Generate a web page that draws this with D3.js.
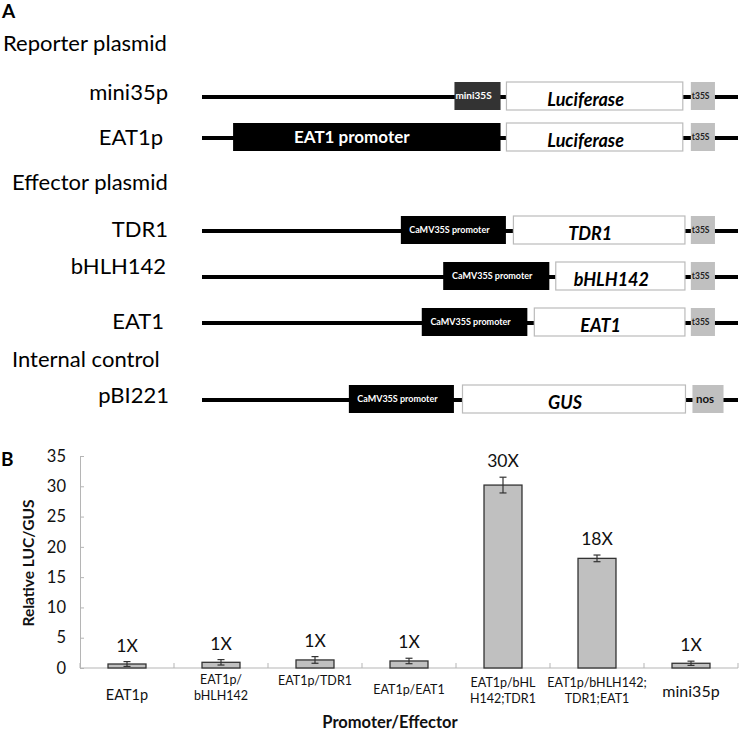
<!DOCTYPE html>
<html><head><meta charset="utf-8">
<script src="https://cdn.jsdelivr.net/npm/d3@7/dist/d3.min.js"></script>
<style>
html,body{margin:0;padding:0;background:#fff;}
svg{display:block;}
text{font-family:Lato, "Open Sans", sans-serif;}
</style></head>
<body>
<svg id="chart" width="740" height="733"></svg>
<script>
// ---------------- DATA ----------------
// Panel A: plasmid constructs (map units 0..1000 along the backbone)
const sectionTitles = ["Reporter plasmid", "Effector plasmid", "Internal control"];
const constructNames = ["mini35p", "EAT1p", "TDR1", "bHLH142", "EAT1", "pBI221"];
// parts: [label, type, start, end]
const partsMini35p = [["mini35S", "mini", 471, 557], ["Luciferase", "cds", 568, 897], ["t35S", "term", 912, 957]];
const partsEAT1p   = [["EAT1 promoter", "prom", 58, 557], ["Luciferase", "cds", 568, 897], ["t35S", "term", 912, 957]];
const partsTDR1    = [["CaMV35S promoter", "prom", 371, 567], ["TDR1", "cds", 581, 901], ["t35S", "term", 912, 957]];
const partsBHLH142 = [["CaMV35S promoter", "prom", 450, 648], ["bHLH142", "cds", 660, 901], ["t35S", "term", 912, 957]];
const partsEAT1    = [["CaMV35S promoter", "prom", 410, 607], ["EAT1", "cds", 620, 901], ["t35S", "term", 912, 957]];
const partsPBI221  = [["CaMV35S promoter", "prom", 274, 470], ["GUS", "cds", 486, 902], ["nos", "nos", 915, 973]];
const constructParts = [partsMini35p, partsEAT1p, partsTDR1, partsBHLH142, partsEAT1, partsPBI221];

// Panel B: bar chart
const categories = ["EAT1p", "EAT1p/\nbHLH142", "EAT1p/TDR1", "EAT1p/EAT1", "EAT1p/bHL\nH142;TDR1", "EAT1p/bHLH142;\nTDR1;EAT1", "mini35p"];
const values = [0.66, 0.94, 1.33, 1.16, 30.2, 18.1, 0.78];
const errors = [0.4, 0.45, 0.55, 0.45, 1.3, 0.55, 0.35];
const foldLabels = ["1X", "1X", "1X", "1X", "30X", "18X", "1X"];
const yTicks = [0, 5, 10, 15, 20, 25, 30, 35];
const yTitle = "Relative LUC/GUS";
const xTitle = "Promoter/Effector";

// ---------------- LAYOUT / STYLE ----------------
const svg = d3.select("#chart");
const arial = "'Liberation Sans', Arial, sans-serif";

// Panel labels
svg.append("text").attr("x", 2).attr("y", 18).attr("font-family", arial)
  .attr("font-weight", "bold").attr("font-size", 19).text("A");
svg.append("text").attr("x", 1).attr("y", 466).attr("font-family", arial)
  .attr("font-weight", "bold").attr("font-size", 19).text("B");

// Section titles
const sectionLayout = [{x: 3, y: 50.5}, {x: 12, y: 190}, {x: 12, y: 367}];
sectionTitles.forEach((t, i) => {
  svg.append("text").attr("x", sectionLayout[i].x).attr("y", sectionLayout[i].y)
    .attr("font-size", 22).attr("fill", "#000").text(t);
});

// Construct rows
const rowY = [97, 138, 231, 277, 323, 400];
const rowLabelBase = [100, 145, 237, 274, 329, 403];
const rowLabelRight = [168, 163, 168, 166, 164, 169];
const mapX = d3.scaleLinear().domain([0, 1000]).range([202, 738]);
const boxH = 28;

constructNames.forEach((name, i) => {
  const g = svg.append("g");
  const cy = rowY[i];
  g.append("text").attr("x", rowLabelRight[i]).attr("y", rowLabelBase[i])
    .attr("text-anchor", "end").attr("font-size", 22).text(name);
  g.append("line").attr("x1", mapX(0)).attr("x2", mapX(1000))
    .attr("y1", cy).attr("y2", cy).attr("stroke", "#000").attr("stroke-width", 4);
  const bc = cy - 1;
  constructParts[i].forEach(p => {
    const [label, type, s, e] = p;
    const x0 = mapX(s), x1 = mapX(e);
    let fill = "#fff", stroke = "none";
    if (type === "mini") fill = "#333";
    if (type === "prom") fill = "#000";
    if (type === "cds") { fill = "#fff"; stroke = "#bbb"; }
    if (type === "term" || type === "nos") fill = "#c0c0c0";
    g.append("rect").attr("x", x0).attr("y", bc - boxH / 2).attr("width", x1 - x0).attr("height", boxH)
      .attr("fill", fill).attr("stroke", stroke).attr("stroke-width", 1.2);
    const t = g.append("text").text(label);
    if (type === "mini") {
      t.attr("x", x0 + 1).attr("y", bc + 3).attr("fill", "#fff").attr("font-weight", "bold").attr("font-size", 10);
    } else if (type === "prom") {
      const big = label === "EAT1 promoter";
      t.attr("x", (x0 + x1) / 2 + (big ? -15 : -4)).attr("y", bc + (big ? 6 : 2.5))
        .attr("text-anchor", "middle").attr("fill", "#fff").attr("font-weight", "bold")
        .attr("font-size", big ? 17 : 9);
    } else if (type === "cds") {
      t.attr("x", (x0 + x1) / 2 - 9).attr("y", bc + 10).attr("text-anchor", "middle")
        .attr("font-weight", "bold").attr("font-style", "italic").attr("font-size", 18);
    } else if (type === "term") {
      t.attr("x", x0 + 1).attr("y", bc + 3).attr("fill", "#222").attr("font-weight", "bold").attr("font-size", 8.5);
    } else {
      t.attr("x", (x0 + x1) / 2 - 3).attr("y", bc + 4).attr("text-anchor", "middle")
        .attr("fill", "#111").attr("font-weight", "bold").attr("font-size", 11.5);
    }
  });
});

// ---------------- Panel B ----------------
const plotLeft = 80, plotRight = 738, plotBottom = 668, plotTop = 456;
const y = d3.scaleLinear().domain([0, 35]).range([plotBottom, plotTop]);
const x = d3.scaleBand().domain(categories).range([plotLeft, plotRight])
  .paddingInner(0.596).paddingOuter(0.298);
const axisColor = "#b5b5b5";

// Y axis
const yAxis = d3.axisLeft(y).tickValues(yTicks).tickSize(-4).tickPadding(14).tickFormat(d3.format("d"));
const yg = svg.append("g").attr("transform", `translate(${plotLeft},0)`).call(yAxis);
yg.select(".domain").attr("stroke", axisColor);
yg.selectAll(".tick line").attr("stroke", axisColor);
yg.selectAll(".tick text").attr("font-family", "Lato, sans-serif").attr("font-size", 16.5).attr("fill", "#111");

// X axis line and boundary ticks
svg.append("line").attr("x1", plotLeft).attr("x2", plotRight).attr("y1", plotBottom).attr("y2", plotBottom)
  .attr("stroke", axisColor);
const boundaries = categories.map(c => x(c) + x.bandwidth() / 2 - x.step() / 2).concat([plotRight]);
svg.selectAll(".btick").data(boundaries).enter().append("line")
  .attr("x1", d => d).attr("x2", d => d).attr("y1", plotBottom).attr("y2", plotBottom - 5)
  .attr("stroke", axisColor);

// Bars
svg.selectAll(".bar").data(values).enter().append("rect")
  .attr("x", (d, i) => x(categories[i]))
  .attr("y", d => y(d))
  .attr("width", x.bandwidth())
  .attr("height", d => y(0) - y(d))
  .attr("fill", "#c0c0c0").attr("stroke", "#333").attr("stroke-width", 1.3);

// Error bars
values.forEach((v, i) => {
  const cx = x(categories[i]) + x.bandwidth() / 2;
  const lo = y(v - errors[i]), hi = y(v + errors[i]);
  const eg = svg.append("g").attr("stroke", "#333").attr("stroke-width", 1.2);
  eg.append("line").attr("x1", cx).attr("x2", cx).attr("y1", lo).attr("y2", hi);
  eg.append("line").attr("x1", cx - 3.5).attr("x2", cx + 3.5).attr("y1", lo).attr("y2", lo);
  eg.append("line").attr("x1", cx - 3.5).attr("x2", cx + 3.5).attr("y1", hi).attr("y2", hi);
  svg.append("text").attr("x", cx).attr("y", hi - 10).attr("text-anchor", "middle")
    .attr("font-size", 17.5).attr("fill", "#111").text(foldLabels[i]);
});

// Category labels
const catFont = [14.5, 12.5, 12.5, 12.5, 12.5, 12.5, 16];
const catBase = [700, 684, 685, 694, 687, 687, 697];
categories.forEach((c, i) => {
  const cx = x(c) + x.bandwidth() / 2;
  const lines = c.split("\n");
  const t = svg.append("text").attr("text-anchor", "middle").attr("font-size", catFont[i]).attr("fill", "#111");
  lines.forEach((ln, j) => {
    t.append("tspan").attr("x", cx).attr("y", catBase[i] + j * 16).text(ln);
  });
});

// Axis titles
svg.append("text").attr("transform", "translate(34,563) rotate(-90)").attr("text-anchor", "middle")
  .attr("font-weight", "bold").attr("font-size", 15.5).attr("fill", "#111").text(yTitle);
svg.append("text").attr("x", 390).attr("y", 728).attr("text-anchor", "middle")
  .attr("font-weight", "bold").attr("font-size", 16.5).attr("fill", "#111").text(xTitle);
</script>
</body></html>
